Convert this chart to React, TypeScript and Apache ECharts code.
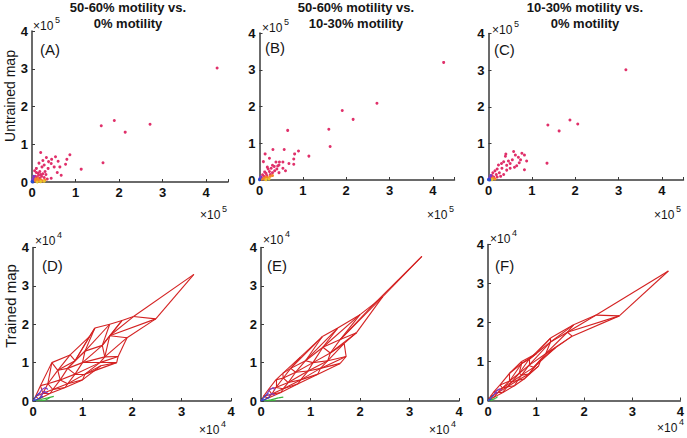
import { useEffect, useRef } from "react";
import * as echarts from "echarts";

// ---------- labels ----------
const panelLabels = ["(A)", "(B)", "(C)", "(D)", "(E)", "(F)"];
const topTitles = [
  ["50-60% motility vs.", "0% motility"],
  ["50-60% motility vs.", "10-30% motility"],
  ["10-30% motility vs.", "0% motility"],
];
const rowNames = ["Untrained map", "Trained map"];
const tickLabels = [0, 1, 2, 3, 4];
const topExponent = "5";
const bottomExponent = "4";

// ---------- untrained map scatter data (units: x10^5) ----------
const pinkA = [
  [4.25, 3.02], [2.71, 1.53], [1.89, 1.63], [1.59, 1.49], [2.14, 1.32], [1.63, 0.51], [1.13, 0.34],
  [0.87, 0.72], [0.8, 0.6], [0.77, 0.47], [0.2, 0.78], [0.54, 0.67], [0.33, 0.65], [0.38, 0.54],
  [0.25, 0.57], [0.16, 0.5], [0.44, 0.49], [0.51, 0.4], [0.64, 0.4], [0.58, 0.25], [0.67, 0.18],
  [0.44, 0.1], [0.37, 0.36], [0.3, 0.28], [0.23, 0.4], [0.1, 0.36], [0.14, 0.23], [0.28, 0.45],
  [0.45, 0.6], [0.6, 0.55], [0.05, 0.1], [0.08, 0.15], [0.12, 0.12], [0.15, 0.18], [0.18, 0.1],
  [0.2, 0.2], [0.22, 0.15], [0.25, 0.22], [0.1, 0.25], [0.06, 0.3], [0.03, 0.05], [0.12, 0.05],
  [0.28, 0.12], [0.32, 0.2], [0.18, 0.28], [0.35, 0.08],
];
const orangeA = [[0.05, 0.03], [0.1, 0.02], [0.15, 0.04], [0.2, 0.06], [0.25, 0.03], [0.08, 0.07], [0.13, 0.09], [0.3, 0.05], [0.18, 0.02]];
const yellowA = [[0.2, 0.01], [0.12, 0.0], [0.28, 0.02]];
const purpleA = [[0.02, 0.08], [0.04, 0.15], [0.01, 0.03]];
const blueA = [[0.0, 0.01], [0.02, 0.0]];

const pinkB = [
  [4.25, 3.2], [2.71, 2.09], [1.91, 1.89], [2.16, 1.65], [1.6, 1.38], [0.65, 1.35], [1.63, 0.91], [1.14, 0.65],
  [0.31, 0.83], [0.57, 0.83], [0.13, 0.71], [0.9, 0.79], [0.81, 0.71], [0.79, 0.57], [0.79, 0.43], [0.68, 0.45],
  [0.23, 0.59], [0.09, 0.5], [0.38, 0.49], [0.46, 0.49], [0.54, 0.49], [0.45, 0.41], [0.34, 0.37], [0.27, 0.32],
  [0.54, 0.32], [0.23, 0.23], [0.15, 0.18], [0.07, 0.14], [0.4, 0.3], [0.3, 0.4], [0.2, 0.3], [0.35, 0.25],
  [0.18, 0.35], [0.12, 0.22], [0.25, 0.15], [0.1, 0.1], [0.05, 0.05], [0.17, 0.12], [0.3, 0.2], [0.42, 0.38],
  [0.6, 0.25], [0.45, 0.2],
];
const orangeB = [[0.1, 0.05], [0.15, 0.08], [0.2, 0.06], [0.25, 0.1], [0.3, 0.12], [0.05, 0.02], [0.12, 0.02]];
const yellowB = [[0.15, 0.01], [0.22, 0.03]];
const purpleB = [[0.01, 0.04], [0.03, 0.08]];
const blueB = [[0, 0.01]];

const pinkC = [
  [3.17, 3.01], [1.88, 1.64], [2.06, 1.53], [1.37, 1.5], [1.63, 1.34], [1.35, 0.46],
  [0.58, 0.78], [0.4, 0.71], [0.39, 0.65], [0.77, 0.73], [0.83, 0.68], [0.69, 0.62], [0.88, 0.52],
  [0.71, 0.47], [0.83, 0.28], [0.65, 0.39], [0.5, 0.45], [0.46, 0.52], [0.35, 0.5], [0.3, 0.45],
  [0.42, 0.4], [0.23, 0.41], [0.31, 0.32], [0.42, 0.27], [0.5, 0.32], [0.6, 0.35], [0.2, 0.3],
  [0.15, 0.25], [0.1, 0.2], [0.25, 0.2], [0.35, 0.15], [0.18, 0.15], [0.08, 0.12], [0.12, 0.08],
  [0.05, 0.05], [0.28, 0.1], [0.2, 0.08], [0.55, 0.55], [0.62, 0.68], [0.74, 0.55],
];
const orangeC = [[0.15, 0.03], [0.1, 0.05]];
const yellowC = [[0.08, 0.01]];
const purpleC = [[0.02, 0.05], [0.05, 0.12], [0.01, 0.02]];
const blueC = [[0.0, 0.01], [0.03, 0.0]];

// ---------- trained map lattices (units: x10^4), rows of nodes ----------
const meshD = [
  [[0, 0], [0.12, 0.05], [0.35, 0.2], [0.65, 0.35], [1.0, 0.55], [1.37, 0.92]],
  [[0.05, 0.12], [0.2, 0.2], [0.4, 0.3], [0.7, 0.45], [1.05, 0.7], [1.69, 1.0]],
  [[0.15, 0.4], [0.3, 0.45], [0.55, 0.55], [0.85, 0.7], [1.35, 1.0], [1.72, 1.16]],
  [[0.38, 1.0], [0.5, 0.8], [0.7, 0.85], [1.0, 1.0], [1.45, 1.15], [1.9, 1.65]],
  [[0.75, 1.2], [0.85, 1.05], [1.05, 1.3], [1.4, 1.45], [1.55, 1.7], [2.48, 2.14]],
  [[1.14, 1.68], [1.25, 1.9], [1.55, 2.0], [1.8, 2.1], [2.03, 2.2], [3.25, 3.3]],
];
const meshE = [
  [[0, 0], [0.15, 0.08], [0.4, 0.22], [0.75, 0.45], [1.15, 0.7], [1.6, 0.98]],
  [[0.05, 0.12], [0.22, 0.18], [0.45, 0.32], [0.8, 0.55], [1.2, 0.85], [1.72, 1.16]],
  [[0.15, 0.3], [0.3, 0.35], [0.55, 0.48], [0.95, 0.78], [1.35, 1.05], [1.68, 1.5]],
  [[0.3, 0.55], [0.45, 0.6], [0.7, 0.75], [1.05, 1.0], [1.4, 1.25], [1.93, 1.78]],
  [[0.44, 0.72], [0.6, 0.85], [0.9, 1.05], [1.25, 1.4], [1.6, 1.6], [2.46, 2.72]],
  [[0.8, 1.15], [1.24, 1.68], [1.55, 1.9], [2.0, 2.25], [2.3, 2.55], [3.25, 3.77]],
];
const meshF = [
  [[0, 0], [0.12, 0.08], [0.3, 0.2], [0.55, 0.38], [0.75, 0.55], [1.05, 0.88]],
  [[0.05, 0.1], [0.2, 0.2], [0.4, 0.35], [0.62, 0.52], [0.85, 0.68], [1.1, 1.05]],
  [[0.12, 0.22], [0.3, 0.32], [0.5, 0.48], [0.7, 0.65], [0.95, 0.85], [1.4, 1.35]],
  [[0.25, 0.4], [0.45, 0.5], [0.65, 0.7], [0.85, 0.9], [1.2, 1.2], [1.75, 1.65]],
  [[0.45, 0.7], [0.7, 0.95], [0.85, 1.05], [1.3, 1.5], [1.65, 1.75], [2.73, 2.17]],
  [[0.7, 1.0], [1.0, 1.2], [1.3, 1.6], [1.78, 1.94], [2.25, 2.19], [3.75, 3.32]],
];

// near-origin coloured traces (units: x10^4)
const greenD = [[[0.02, 0.0], [0.15, 0.04], [0.3, 0.08], [0.42, 0.12]], [[0.1, 0.0], [0.25, 0.02], [0.35, 0.1]]];
const blueD = [[[0, 0], [0.05, 0.1], [0.1, 0.18], [0.15, 0.22]], [[0, 0], [0.1, 0.05], [0.2, 0.12]]];
const purpleD = [[[0.1, 0.15], [0.18, 0.3], [0.25, 0.35], [0.3, 0.3]], [[0.15, 0.1], [0.22, 0.25], [0.3, 0.2]]];
const greenE = [[[0.05, 0.0], [0.2, 0.03], [0.35, 0.08], [0.45, 0.1]], [[0.12, 0.0], [0.3, 0.02]]];
const blueE = [[[0, 0], [0.05, 0.08], [0.1, 0.15], [0.15, 0.2]], [[0, 0], [0.1, 0.05], [0.18, 0.1]]];
const purpleE = [[[0.1, 0.15], [0.18, 0.3], [0.25, 0.35], [0.28, 0.28]], [[0.15, 0.12], [0.22, 0.2], [0.28, 0.15]]];
const greenF = [[[0.0, 0.0], [0.08, 0.03], [0.15, 0.05], [0.2, 0.1]], [[0.05, 0.0], [0.12, 0.02]]];
const blueF = [[[0, 0], [0.04, 0.05], [0.08, 0.1], [0.12, 0.14]], [[0, 0], [0.07, 0.04]]];
const purpleF = [[[0.12, 0.15], [0.18, 0.25], [0.24, 0.3], [0.28, 0.26]], [[0.14, 0.18], [0.2, 0.2]]];

// ---------- styling ----------
const FONT = '"Liberation Sans", Arial, Helvetica, sans-serif';
const PINK = "#e0306a";
const ORANGE = "#f5822a";
const YELLOW = "#e6c42c";
const PURPLE = "#7a3cc8";
const BLUE = "#2a4ad0";
const RED = "#d42222";
const GREEN = "#3cb43c";
const AXIS = "#3a3a3a";

const grids = [
  { left: 32, top: 31, width: 196, height: 151 },
  { left: 259.5, top: 33, width: 195, height: 147 },
  { left: 488.5, top: 33.5, width: 195, height: 146.5 },
  { left: 33, top: 247.5, width: 198, height: 153.5 },
  { left: 261, top: 247.5, width: 198, height: 153.5 },
  { left: 488, top: 244.5, width: 196, height: 156 },
];
const xMaxes = [4.5, 4.5, 4.5, 4, 4, 4];

function meshSegments(mesh: number[][][]) {
  const segs: number[][][] = [];
  const R = mesh.length;
  const C = mesh[0].length;
  for (let i = 0; i < R; i++) {
    for (let j = 0; j < C; j++) {
      const p = mesh[i][j];
      if (i + 1 < R) segs.push([p, mesh[i + 1][j]]);
      if (j + 1 < C) segs.push([p, mesh[i][j + 1]]);
      if (i + 1 < R && j - 1 >= 0) segs.push([p, mesh[i + 1][j - 1]]);
    }
  }
  return segs;
}

function polySegments(lines: number[][][]) {
  const segs: number[][][] = [];
  lines.forEach((l) => {
    for (let k = 0; k + 1 < l.length; k++) segs.push([l[k], l[k + 1]]);
  });
  return segs;
}

function linesSeries(idx: number, segs: number[][][], color: string, width: number) {
  return {
    type: "lines",
    coordinateSystem: "cartesian2d",
    xAxisIndex: idx,
    yAxisIndex: idx,
    silent: true,
    data: segs.map((s) => ({ coords: s })),
    lineStyle: { color, width, opacity: 1 },
  };
}

function scatterSeries(idx: number, data: number[][], color: string) {
  return {
    type: "scatter",
    xAxisIndex: idx,
    yAxisIndex: idx,
    silent: true,
    data,
    symbolSize: 3,
    itemStyle: { color, opacity: 1 },
  };
}

function axisCommon(idx: number, max: number) {
  return {
    gridIndex: idx,
    type: "value",
    min: 0,
    max,
    interval: 1,
    axisLine: { show: true, onZero: false, lineStyle: { color: AXIS, width: 1.5 } },
    axisTick: { show: true, inside: true, length: 3, lineStyle: { color: AXIS, width: 1 } },
    splitLine: { show: false },
    axisLabel: {
      show: true,
      color: "#111",
      fontWeight: "bold",
      fontSize: 13,
      fontFamily: FONT,
      margin: 4,
      showMaxLabel: true,
      formatter: (v: number) => (tickLabels.indexOf(v) >= 0 ? String(v) : ""),
    },
  };
}

function txt(text: string, x: number, y: number, size: number, opts: any = {}) {
  return {
    type: "text",
    x,
    y,
    rotation: opts.rotation || 0,
    silent: true,
    style: {
      text,
      x: 0,
      y: 0,
      fill: "#151515",
      font: `${opts.bold ? "bold " : ""}${size}px ${FONT}`,
      textAlign: opts.align || "left",
      textVerticalAlign: "middle",
    },
  };
}

function exponent(x: number, y: number, sup: string, size: number, supDx: number, supDy: number) {
  return [txt("×10", x, y, size), txt(sup, x + supDx, y + supDy, size - 3)];
}

export default function App() {
  const ref = useRef<HTMLDivElement>(null);
  useEffect(() => {
    if (!ref.current) return;
    const chart = echarts.init(ref.current, null, { renderer: "svg" });

    const series: any[] = [];
    const scatterSets = [
      [pinkA, orangeA, yellowA, purpleA, blueA],
      [pinkB, orangeB, yellowB, purpleB, blueB],
      [pinkC, orangeC, yellowC, purpleC, blueC],
    ];
    scatterSets.forEach((set, k) => {
      const cols = [PINK, ORANGE, YELLOW, PURPLE, BLUE];
      set.forEach((d, c) => series.push(scatterSeries(k, d, cols[c])));
    });
    const meshes = [meshD, meshE, meshF];
    const greens = [greenD, greenE, greenF];
    const blues = [blueD, blueE, blueF];
    const purples = [purpleD, purpleE, purpleF];
    meshes.forEach((m, k) => {
      const idx = k + 3;
      series.push(linesSeries(idx, meshSegments(m), RED, 1.1));
      series.push(linesSeries(idx, polySegments(greens[k]), GREEN, 1.2));
      series.push(linesSeries(idx, polySegments(blues[k]), BLUE, 1.2));
      series.push(linesSeries(idx, polySegments(purples[k]), PURPLE, 1.2));
    });

    const graphics: any[] = [];
    const titleCenters = [128, 356, 585];
    topTitles.forEach((t, k) => {
      graphics.push(txt(t[0], titleCenters[k], 7, 13, { bold: true, align: "center" }));
      graphics.push(txt(t[1], titleCenters[k], 23, 13, { bold: true, align: "center" }));
    });
    graphics.push(txt(rowNames[0], 10, 96, 14, { rotation: Math.PI / 2, align: "center" }));
    graphics.push(txt(rowNames[1], 10, 306, 15, { rotation: Math.PI / 2, align: "center" }));

    const labelPos = [[40, 49], [265, 47], [494, 49], [42, 265], [267, 265], [495, 265]];
    panelLabels.forEach((l, k) => graphics.push(txt(l, labelPos[k][0], labelPos[k][1], 15)));

    // y-axis exponents
    graphics.push(...exponent(33, 26, topExponent, 12, 22, -6));
    graphics.push(...exponent(262, 28, topExponent, 12, 22, -6));
    graphics.push(...exponent(492, 30, topExponent, 12, 22, -6));
    graphics.push(...exponent(35, 241, bottomExponent, 12, 22, -6));
    graphics.push(...exponent(263, 240, bottomExponent, 12, 22, -6));
    graphics.push(...exponent(490, 239, bottomExponent, 12, 22, -6));
    // x-axis exponents
    graphics.push(...exponent(200, 215, topExponent, 12, 22, -6));
    graphics.push(...exponent(427, 215, topExponent, 12, 22, -6));
    graphics.push(...exponent(654, 215, topExponent, 12, 22, -6));
    graphics.push(...exponent(199, 430, bottomExponent, 12, 22, -6));
    graphics.push(...exponent(429, 430, bottomExponent, 12, 22, -6));
    graphics.push(...exponent(657, 428, bottomExponent, 12, 22, -6));

    chart.setOption({
      animation: false,
      backgroundColor: "#ffffff",
      grid: grids.map((g) => ({ ...g, containLabel: false })),
      xAxis: grids.map((_, k) => axisCommon(k, xMaxes[k])),
      yAxis: grids.map((_, k) => axisCommon(k, 4)),
      series,
      graphic: { elements: graphics },
    });
    return () => chart.dispose();
  }, []);
  return (
    <div
      ref={ref}
      style={{ position: "absolute", left: 0, top: 0, width: 687, height: 438, background: "#fff" }}
    />
  );
}
